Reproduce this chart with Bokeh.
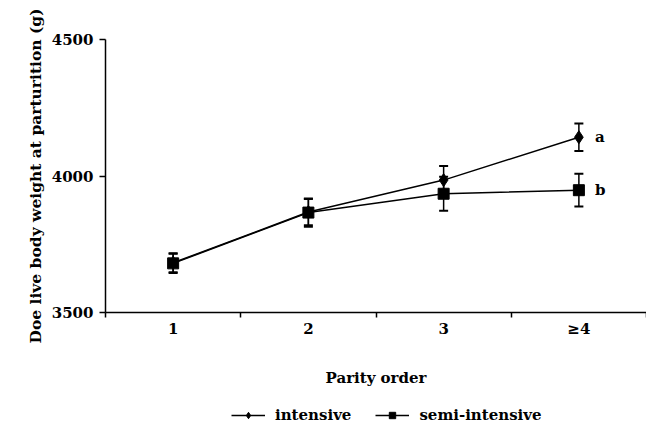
from bokeh.plotting import figure
from bokeh.layouts import column
from bokeh.models import FixedTicker, Legend, LegendItem, Whisker, ColumnDataSource, TeeHead, Range1d
from bokeh.core.properties import value
from bokeh.embed import file_html
from bokeh.resources import INLINE

categories = ["1", "2", "3", "\u22654"]
positions = [1, 2, 3, 4]
intensive = [3682, 3868, 3985, 4142]
intensive_err = [35, 48, 52, 50]
semi = [3680, 3866, 3935, 3948]
semi_err = [35, 52, 62, 60]
sig_labels = ["a", "b"]
series_names = ["intensive", "semi-intensive"]

FONT = "DejaVu Serif"

p = figure(frame_width=541, frame_height=273, output_backend="svg", toolbar_location=None,
           x_range=Range1d(0.5, 4.5), y_range=Range1d(3500, 4500),
           min_border_left=105, min_border_top=39, min_border_right=0, min_border_bottom=83)
p.outline_line_color = None
p.grid.visible = False
p.background_fill_color = "white"

src_i = ColumnDataSource(dict(x=positions, y=intensive,
                              lo=[v - e for v, e in zip(intensive, intensive_err)],
                              hi=[v + e for v, e in zip(intensive, intensive_err)]))
src_s = ColumnDataSource(dict(x=positions, y=semi,
                              lo=[v - e for v, e in zip(semi, semi_err)],
                              hi=[v + e for v, e in zip(semi, semi_err)]))

for src in (src_i, src_s):
    w = Whisker(source=src, base="x", lower="lo", upper="hi", line_color="black", line_width=1.5,
                upper_head=TeeHead(size=9, line_color="black", line_width=2),
                lower_head=TeeHead(size=9, line_color="black", line_width=2))
    p.add_layout(w)

p.line("x", "y", source=src_i, line_color="black", line_width=1.5)
p.scatter("x", "y", source=src_i, marker="diamond", size=13, color="black")
p.line("x", "y", source=src_s, line_color="black", line_width=1.5)
p.scatter("x", "y", source=src_s, marker="square", size=11, color="black")

p.text(x=[positions[-1], positions[-1]], y=[intensive[-1], semi[-1]], text=sig_labels,
       x_offset=16, text_baseline="middle", text_font=value(FONT), text_font_style="bold",
       text_font_size="15px", text_color="black")

p.xaxis.ticker = FixedTicker(ticks=positions, minor_ticks=[0.5, 1.5, 2.5, 3.5, 4.5])
p.xaxis.major_label_overrides = {pos: c for pos, c in zip(positions, categories)}
p.xaxis.major_tick_out = 0
p.xaxis.major_tick_in = 0
p.xaxis.minor_tick_out = 5
p.xaxis.minor_tick_in = 0
p.xaxis.axis_label = "Parity order"

p.yaxis.ticker = FixedTicker(ticks=[3500, 4000, 4500], minor_ticks=[])
p.yaxis.major_tick_out = 6
p.yaxis.major_tick_in = 0
p.yaxis.axis_label = "Doe live body weight at parturition (g)"

for ax in (p.xaxis[0], p.yaxis[0]):
    ax.axis_line_color = "black"
    ax.axis_line_width = 1.5
    ax.major_tick_line_color = "black"
    ax.major_tick_line_width = 1.5
    ax.minor_tick_line_color = "black"
    ax.minor_tick_line_width = 1.5
    ax.major_label_text_font = FONT
    ax.major_label_text_font_style = "bold"
    ax.major_label_text_font_size = "15px"
    ax.major_label_text_color = "black"
    ax.axis_label_text_font = FONT
    ax.axis_label_text_font_style = "bold"
    ax.axis_label_text_font_size = "15px"
    ax.axis_label_text_color = "black"

p.yaxis.axis_label_text_font_size = "15.5px"
p.xaxis.major_label_standoff = 2
p.xaxis.axis_label_standoff = 28
p.yaxis.major_label_standoff = 6
p.yaxis.axis_label_standoff = 4

# legend strip below the chart (its sample renderers sit outside the visible range)
lg = figure(width=646, height=37, output_backend="svg", toolbar_location=None,
            x_range=Range1d(0, 1), y_range=Range1d(0, 1),
            min_border_left=0, min_border_right=0, min_border_top=0, min_border_bottom=0)
lg.axis.visible = False
lg.grid.visible = False
lg.outline_line_color = None
off = ColumnDataSource(dict(x=[-10, -9], y=[-10, -10]))
e_li = lg.line("x", "y", source=off, line_color="black", line_width=1.5)
e_mi = lg.scatter("x", "y", source=off, marker="diamond", size=11, color="black")
e_ls = lg.line("x", "y", source=off, line_color="black", line_width=1.5)
e_ms = lg.scatter("x", "y", source=off, marker="square", size=10, color="black")
legend = Legend(items=[LegendItem(label=series_names[0], renderers=[e_li, e_mi]),
                       LegendItem(label=series_names[1], renderers=[e_ls, e_ms])],
                orientation="horizontal", location=(126, 8),
                label_text_font=FONT, label_text_font_style="bold", label_text_font_size="15px",
                label_text_color="black", border_line_color=None, background_fill_alpha=0,
                glyph_width=34, glyph_height=16, spacing=24, label_standoff=10, margin=0, padding=2)
lg.add_layout(legend, "center")

layout = column(p, lg, spacing=0)
open("out.html", "w").write(file_html(layout, INLINE))
